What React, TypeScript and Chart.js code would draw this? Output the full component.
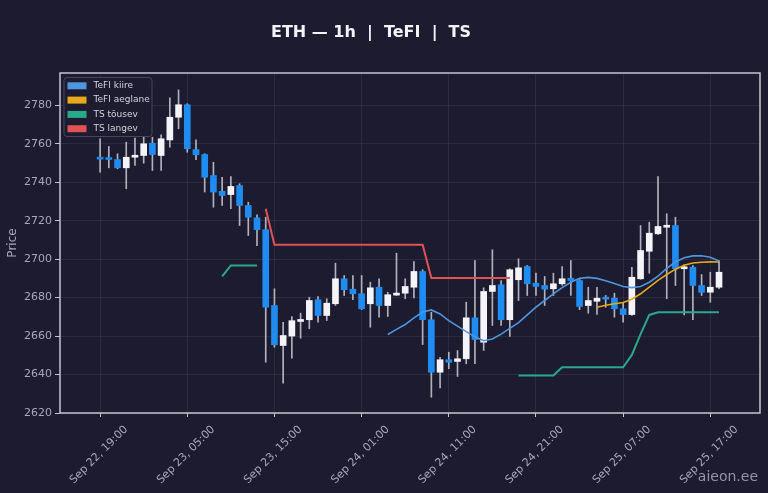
import { useEffect, useRef } from "react";
import { Chart, registerables } from "chart.js";

Chart.register(...registerables);

// hours counted from the first candle (Sep 22, 19:00)
const tickHours = [0, 10, 20, 30, 40, 50, 60, 70];
const tickLabels = [
  "Sep 22, 19:00",
  "Sep 23, 05:00",
  "Sep 23, 15:00",
  "Sep 24, 01:00",
  "Sep 24, 11:00",
  "Sep 24, 21:00",
  "Sep 25, 07:00",
  "Sep 25, 17:00",
];

const opens = [
  2752.5, 2752.2, 2751.8, 2747.5, 2753.0, 2753.9, 2760.3, 2753.9, 2762.0, 2773.8,
  2780.3, 2757.0, 2754.4, 2743.5, 2735.3, 2733.6, 2738.3, 2727.9, 2721.5, 2715.3,
  2675.9, 2655.1, 2660.0, 2667.6, 2668.5, 2678.9, 2670.7, 2676.8, 2689.8, 2684.4,
  2682.0, 2676.8, 2685.4, 2675.9, 2681.3, 2682.3, 2685.4, 2693.6, 2668.5, 2641.2,
  2647.7, 2646.8, 2648.2, 2669.5, 2656.8, 2683.2, 2686.7, 2668.5, 2689.3, 2696.2,
  2687.5, 2686.3, 2684.6, 2687.2, 2690.1, 2688.9, 2675.9, 2678.1, 2679.9, 2679.7,
  2674.2, 2671.2, 2689.8, 2704.1, 2713.2, 2716.6, 2717.5, 2695.0, 2695.8, 2686.3,
  2682.8, 2685.4,
];
const highs = [
  2762.6, 2758.6, 2754.8, 2760.8, 2763.0, 2763.4, 2763.4, 2764.7, 2783.9, 2788.0,
  2780.8, 2762.0, 2754.8, 2750.4, 2742.6, 2743.0, 2739.2, 2729.6, 2723.0, 2721.8,
  2684.6, 2667.2, 2670.2, 2671.9, 2680.2, 2680.6, 2679.4, 2697.9, 2691.5, 2691.5,
  2691.5, 2688.0, 2689.8, 2682.8, 2703.1, 2689.8, 2698.8, 2694.5, 2672.4, 2649.0,
  2651.6, 2652.5, 2677.6, 2699.3, 2685.1, 2704.9, 2688.9, 2695.0, 2700.2, 2696.7,
  2692.7, 2691.0, 2692.7, 2696.2, 2699.3, 2689.4, 2685.4, 2685.4, 2681.1, 2682.3,
  2677.6, 2695.8, 2717.5, 2719.2, 2743.0, 2723.6, 2721.8, 2697.0, 2696.7, 2692.0,
  2693.2, 2699.3,
];
const lows = [
  2745.2, 2747.5, 2747.0, 2736.6, 2748.7, 2749.9, 2746.1, 2746.1, 2758.2, 2767.8,
  2755.6, 2751.7, 2734.9, 2727.0, 2727.9, 2726.2, 2717.5, 2712.3, 2707.0, 2646.4,
  2654.2, 2635.5, 2648.5, 2658.9, 2663.8, 2667.2, 2668.1, 2675.9, 2681.1, 2678.9,
  2673.8, 2664.6, 2669.8, 2670.2, 2681.1, 2679.4, 2679.9, 2655.6, 2628.2, 2633.1,
  2643.0, 2639.0, 2645.6, 2645.6, 2652.5, 2665.5, 2665.5, 2659.8, 2678.5, 2681.1,
  2681.1, 2675.9, 2681.1, 2686.3, 2681.1, 2673.7, 2671.9, 2671.2, 2675.0, 2669.8,
  2667.2, 2670.8, 2689.5, 2692.7, 2712.8, 2679.4, 2686.3, 2671.0, 2668.5, 2681.1,
  2677.6, 2684.7,
];
const closes = [
  2752.0, 2751.8, 2747.5, 2753.0, 2753.6, 2760.0, 2754.4, 2762.6, 2773.8, 2780.3,
  2757.4, 2754.3, 2742.6, 2734.9, 2733.1, 2737.8, 2727.9, 2721.8, 2715.3, 2675.0,
  2655.5, 2660.3, 2668.0, 2668.5, 2678.5, 2670.7, 2677.1, 2689.8, 2684.1, 2682.0,
  2674.2, 2685.1, 2675.9, 2681.5, 2682.0, 2685.8, 2693.6, 2668.5, 2641.2, 2647.7,
  2646.4, 2648.2, 2669.5, 2658.2, 2683.2, 2686.3, 2668.5, 2694.5, 2695.5, 2687.2,
  2685.8, 2684.4, 2687.2, 2689.8, 2688.9, 2675.4, 2678.5, 2679.7, 2679.2, 2674.2,
  2671.2, 2690.6, 2704.5, 2713.5, 2717.0, 2717.5, 2695.0, 2695.8, 2686.3, 2682.8,
  2685.4, 2693.2,
];

const tefiFast = [
  null, null, null, null, null, null, null, null, null, null,
  null, null, null, null, null, null, null, null, null, null,
  null, null, null, null, null, null, null, null, null, null,
  null, null, null, 2660.8, 2663.5, 2666.0, 2669.5, 2672.5, 2673.6, 2671.5,
  2668.0, 2665.2, 2662.3, 2659.6, 2657.6, 2658.5, 2661.0, 2664.0, 2667.0, 2671.0,
  2675.0, 2678.5, 2682.0, 2685.2, 2688.0, 2690.0, 2690.5, 2690.0, 2688.8, 2687.3,
  2685.8, 2685.2, 2685.8, 2688.0, 2691.2, 2695.2, 2698.5, 2700.7, 2701.7, 2701.8,
  2701.0, 2699.0,
];
const tefiSlow = [
  null, null, null, null, null, null, null, null, null, null,
  null, null, null, null, null, null, null, null, null, null,
  null, null, null, null, null, null, null, null, null, null,
  null, null, null, null, null, null, null, null, null, null,
  null, null, null, null, null, null, null, null, null, null,
  null, null, null, null, null, null, null, 2675.0, 2676.0, 2676.8,
  2677.5, 2679.2, 2682.0, 2685.5, 2689.0, 2692.0, 2694.8, 2696.8, 2698.0, 2698.4,
  2698.6, 2698.5,
];
const tsUp = [
  null, null, null, null, null, null, null, null, null, null,
  null, null, null, null, 2691.0, 2696.7, 2696.7, 2696.7, 2696.7, null,
  null, null, null, null, null, null, null, null, null, null,
  null, null, null, null, null, null, null, null, null, null,
  null, null, null, null, null, null, null, null, 2639.5, 2639.5,
  2639.5, 2639.5, 2639.5, 2643.8, 2643.8, 2643.8, 2643.8, 2643.8, 2643.8, 2643.8,
  2643.8, 2650.2, 2661.0, 2671.0, 2672.4, 2672.4, 2672.4, 2672.4, 2672.4, 2672.4,
  2672.4, 2672.4,
];
const tsDown = [
  null, null, null, null, null, null, null, null, null, null,
  null, null, null, null, null, null, null, null, null, 2726.2,
  2707.5, 2707.5, 2707.5, 2707.5, 2707.5, 2707.5, 2707.5, 2707.5, 2707.5, 2707.5,
  2707.5, 2707.5, 2707.5, 2707.5, 2707.5, 2707.5, 2707.5, 2707.5, 2690.2, 2690.2,
  2690.2, 2690.2, 2690.2, 2690.2, 2690.2, 2690.2, 2690.2, 2690.2, null, null,
  null, null, null, null, null, null, null, null, null, null,
  null, null, null, null, null, null, null, null, null, null,
  null, null,
];

const BG = "#1c1b2f";
const TEXT = "#a8a8ba";
const AXIS = "#c4c4d0";
const GRID = "rgba(255,255,255,0.07)";
const UP = "#f4f4f8";
const DOWN = "#1e8cf0";

const toPoints = (vals: (number | null)[]) => vals.map((v, i) => ({ x: i, y: v }));

const chromePlugin = {
  id: "chrome",
  beforeDraw(chart: Chart) {
    const ctx = chart.ctx;
    ctx.save();
    ctx.fillStyle = BG;
    ctx.fillRect(0, 0, chart.width, chart.height);
    ctx.restore();
  },
  afterDraw(chart: Chart) {
    const { ctx, chartArea: a } = chart;
    ctx.save();
    // frame
    ctx.strokeStyle = AXIS;
    ctx.lineWidth = 1.5;
    ctx.strokeRect(a.left, a.top, a.right - a.left, a.bottom - a.top);

    // legend
    const lines = chart.data.datasets.filter((d: any) => d.type === "line");
    const bx = a.left + 4, by = a.top + 4.5, bw = 88, bh = 59;
    ctx.beginPath();
    ctx.roundRect(bx, by, bw, bh, 3);
    ctx.fillStyle = "rgba(28,27,47,0.85)";
    ctx.fill();
    ctx.strokeStyle = "#46465a";
    ctx.lineWidth = 1;
    ctx.stroke();
    ctx.font = '9px "DejaVu Sans"';
    ctx.textBaseline = "middle";
    ctx.textAlign = "left";
    lines.forEach((d: any, k: number) => {
      const cy = by + 8.3 + k * 14.3;
      ctx.fillStyle = d.borderColor;
      ctx.fillRect(bx + 3.5, cy - 3.5, 19, 7);
      ctx.fillStyle = "#d4d4de";
      ctx.fillText(d.label, bx + 29.5, cy);
    });

    // title
    ctx.font = 'bold 16px "DejaVu Sans"';
    ctx.fillStyle = "#f2f2f7";
    ctx.textAlign = "center";
    ctx.fillText("ETH — 1h  |  TeFI  |  TS", 371, 33);

    // watermark
    ctx.font = '14px "DejaVu Sans"';
    ctx.fillStyle = "#9494aa";
    ctx.textAlign = "right";
    ctx.textBaseline = "alphabetic";
    ctx.fillText("aieon.ee", 758, 481);
    ctx.restore();
  },
};

export default function App() {
  const canvasRef = useRef<HTMLCanvasElement>(null);

  useEffect(() => {
    document.body.style.margin = "0";
    document.body.style.background = BG;
    if (!canvasRef.current) return;
    Chart.defaults.font.family = '"DejaVu Sans", sans-serif';

    const chart = new Chart(canvasRef.current, {
      type: "bar",
      data: {
        datasets: [
          {
            type: "line",
            label: "TeFI kiire",
            data: toPoints(tefiFast),
            borderColor: "#4f95e0",
            borderWidth: 1.6,
            pointRadius: 0,
            spanGaps: false,
            order: 1,
          },
          {
            type: "line",
            label: "TeFI aeglane",
            data: toPoints(tefiSlow),
            borderColor: "#e8a81c",
            borderWidth: 1.6,
            pointRadius: 0,
            spanGaps: false,
            order: 1,
          },
          {
            type: "line",
            label: "TS tõusev",
            data: toPoints(tsUp),
            borderColor: "#2aa88c",
            borderWidth: 2,
            pointRadius: 0,
            spanGaps: false,
            order: 1,
          },
          {
            type: "line",
            label: "TS langev",
            data: toPoints(tsDown),
            borderColor: "#e05254",
            borderWidth: 2,
            pointRadius: 0,
            spanGaps: false,
            order: 1,
          },
          {
            type: "bar",
            label: "bodies",
            data: opens.map((o, i) => ({ x: i, y: [o, closes[i]] })) as any,
            backgroundColor: opens.map((o, i) => (closes[i] >= o ? UP : DOWN)),
            barThickness: 6,
            minBarLength: 2,
            grouped: false,
            order: 2,
          },
          {
            type: "bar",
            label: "wicks",
            data: lows.map((l, i) => ({ x: i, y: [l, highs[i]] })) as any,
            backgroundColor: "#b2b2be",
            barThickness: 1,
            grouped: false,
            order: 3,
          },
        ],
      },
      options: {
        responsive: false,
        animation: false,
        events: [],
        layout: { padding: { top: 73, right: 8, left: 0, bottom: 0 } },
        plugins: {
          legend: { display: false },
          tooltip: { enabled: false },
          title: { display: false },
        },
        scales: {
          x: {
            type: "linear",
            min: -4.6,
            max: 75.7,
            offset: false,
            afterBuildTicks: (s: any) => {
              s.ticks = tickHours.map(v => ({ value: v }));
            },
            afterFit: (s: any) => {
              s.height = 80;
            },
            ticks: {
              autoSkip: false,
              minRotation: 45,
              maxRotation: 45,
              labelOffset: 26,
              padding: 6,
              color: TEXT,
              font: { size: 11 },
              callback: (_v: any, i: number) => tickLabels[i] ?? "",
            },
            grid: { offset: false, color: GRID, tickColor: AXIS, tickLength: 4 },
            border: { display: false },
          },
          y: {
            type: "linear",
            min: 2620,
            max: 2796.8,
            afterFit: (s: any) => {
              s.width = 60;
            },
            ticks: {
              stepSize: 20,
              includeBounds: false,
              color: TEXT,
              font: { size: 11 },
              padding: 3,
              callback: (v: any) => String(v),
            },
            grid: { color: GRID, tickColor: AXIS, tickLength: 5 },
            border: { display: false },
            title: {
              display: true,
              text: "Price",
              color: TEXT,
              font: { size: 12 },
              padding: { top: 6, bottom: 0 },
            },
          },
        },
      },
      plugins: [chromePlugin],
    });

    return () => {
      chart.destroy();
    };
  }, []);

  return (
    <div style={{ width: 768, height: 493, background: BG }}>
      <canvas ref={canvasRef} width={768} height={493} />
    </div>
  );
}
